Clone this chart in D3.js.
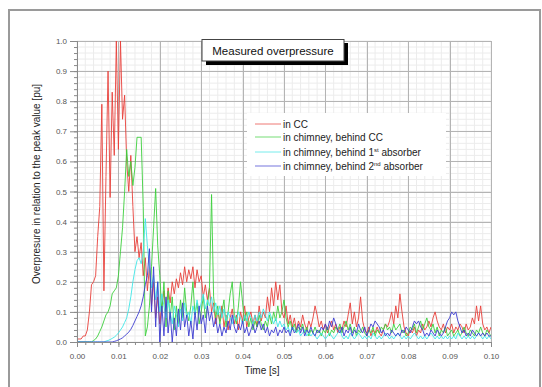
<!DOCTYPE html>
<html>
<head>
<meta charset="utf-8">
<script src="https://cdn.jsdelivr.net/npm/d3@7"></script>
<style>
  body { margin: 0; background: #fff; }
  svg { display: block; font-family: "Liberation Sans", Arial, sans-serif; }
</style>
</head>
<body>
<svg id="chart" width="542" height="387"></svg>
<script>
// sample step of all series: 0.0005 s, from 0 to 0.1 s (201 samples)
const STEP = 0.0005;

const seriesNames = [
  "in CC",
  "in chimney, behind CC",
  "in chimney, behind 1",
  "in chimney, behind 2"
];
const seriesSup = ["", "", "st", "nd"];
const seriesTail = ["", "", " absorber", " absorber"];
const seriesColors = ["#e8403a", "#3ccf3c", "#3fe6e6", "#3c3cd0"];

const xTicks = [0, 0.01, 0.02, 0.03, 0.04, 0.05, 0.06, 0.07, 0.08, 0.09, 0.1];
const yTicks = [0, 0.1, 0.2, 0.3, 0.4, 0.5, 0.6, 0.7, 0.8, 0.9, 1.0];

const inCC = [
  0.01,0.01,0.01,0.02,0.02,0.04,0.1,0.19,0.2,0.22,
  0.35,0.45,0.79,0.17,0.55,0.9,0.48,0.83,0.62,1.0,
  0.64,1.0,0.74,0.82,0.6,0.5,0.62,0.45,0.3,0.35,
  0.28,0.33,0.22,0.28,0.17,0.25,0.12,0.2,0.08,0.15,
  0.06,0.12,0.17,0.1,0.18,0.13,0.2,0.16,0.21,0.18,
  0.23,0.19,0.25,0.2,0.24,0.21,0.25,0.18,0.24,0.2,
  0.22,0.15,0.19,0.14,0.18,0.1,0.13,0.06,0.1,0.07,
  0.12,0.05,0.09,0.04,0.08,0.11,0.06,0.09,0.04,0.1,
  0.07,0.12,0.05,0.08,0.1,0.06,0.09,0.05,0.12,0.07,
  0.1,0.08,0.15,0.1,0.18,0.12,0.2,0.14,0.19,0.1,
  0.08,0.12,0.06,0.09,0.05,0.08,0.04,0.07,0.05,0.09,
  0.06,0.04,0.07,0.05,0.08,0.12,0.09,0.05,0.07,0.04,
  0.06,0.03,0.05,0.07,0.04,0.06,0.03,0.05,0.04,0.07,
  0.05,0.09,0.13,0.06,0.1,0.05,0.08,0.15,0.07,0.04,
  0.03,0.05,0.02,0.04,0.03,0.05,0.03,0.02,0.04,0.06,
  0.05,0.07,0.1,0.06,0.12,0.08,0.16,0.1,0.05,0.03,
  0.02,0.04,0.03,0.05,0.02,0.04,0.03,0.06,0.04,0.05,
  0.07,0.05,0.08,0.1,0.07,0.05,0.04,0.06,0.03,0.05,
  0.04,0.06,0.03,0.05,0.04,0.06,0.05,0.03,0.06,0.04,
  0.05,0.08,0.06,0.12,0.07,0.12,0.06,0.04,0.05,0.03,
  0.05
];

const behindCC = [
  0,0,0,0,0,0,0,0,0.005,0.01,
  0.02,0.035,0.05,0.07,0.09,0.1,0.12,0.16,0.17,0.18,
  0.22,0.3,0.38,0.5,0.64,0.55,0.6,0.52,0.58,0.68,
  0.68,0.68,0.45,0.02,0.05,0.12,0.25,0.38,0.51,0.32,
  0.22,0.1,0.2,0.05,0.17,0.08,0.15,0.04,0.12,0.06,
  0.14,0.08,0.18,0.1,0.07,0.12,0.2,0.09,0.13,0.06,
  0.1,0.15,0.08,0.12,0.18,0.49,0.15,0.08,0.12,0.06,
  0.1,0.14,0.05,0.1,0.16,0.2,0.09,0.06,0.12,0.2,
  0.13,0.07,0.1,0.05,0.08,0.04,0.07,0.05,0.09,0.06,
  0.04,0.07,0.05,0.09,0.06,0.1,0.07,0.12,0.08,0.1,
  0.14,0.08,0.05,0.07,0.04,0.06,0.03,0.05,0.04,0.06,
  0.03,0.05,0.02,0.04,0.03,0.05,0.03,0.04,0.02,0.04,
  0.03,0.05,0.02,0.04,0.03,0.05,0.04,0.06,0.03,0.05,
  0.07,0.04,0.06,0.03,0.05,0.02,0.04,0.03,0.05,0.03,
  0.02,0.04,0.03,0.05,0.02,0.04,0.03,0.05,0.04,0.06,
  0.04,0.05,0.03,0.06,0.04,0.05,0.06,0.03,0.04,0.02,
  0.03,0.05,0.04,0.06,0.03,0.05,0.07,0.04,0.06,0.08,
  0.05,0.04,0.06,0.03,0.05,0.02,0.04,0.03,0.05,0.02,
  0.03,0.04,0.02,0.03,0.04,0.02,0.03,0.05,0.03,0.02,
  0.04,0.03,0.02,0.04,0.03,0.05,0.03,0.02,0.04,0.03,
  0.02
];

const behind1st = [
  0,0,0,0,0,0,0,0,0,0,
  0,0,0,0,0.003,0.005,0.008,0.012,0.016,0.022,
  0.03,0.04,0.05,0.065,0.08,0.11,0.15,0.2,0.24,0.27,
  0.28,0.26,0.3,0.41,0.32,0.25,0.18,0.22,0.14,0.2,
  0.1,0.16,0.12,0.08,0.14,0.1,0.06,0.12,0.09,0.05,
  0.11,0.07,0.13,0.08,0.1,0.06,0.12,0.09,0.14,0.1,
  0.13,0.16,0.11,0.14,0.12,0.15,0.1,0.13,0.09,0.12,
  0.08,0.11,0.07,0.1,0.08,0.06,0.09,0.07,0.1,0.08,
  0.06,0.09,0.07,0.1,0.08,0.06,0.09,0.07,0.1,0.08,
  0.11,0.09,0.07,0.1,0.08,0.06,0.08,0.05,0.07,0.05,
  0.06,0.04,0.05,0.03,0.05,0.04,0.03,0.04,0.02,0.03,
  0.04,0.02,0.03,0.02,0.03,0.02,0.01,0.02,0.03,0.02,
  0.01,0.02,0.03,0.02,0.01,0.02,0.03,0.04,0.02,0.01,
  0.02,0.01,0.03,0.02,0.01,0.02,0.03,0.02,0.01,0.02,
  0.01,0.02,0.01,0.03,0.02,0.01,0.02,0.01,0.02,0.03,
  0.02,0.01,0.02,0.01,0.02,0.03,0.02,0.01,0.02,0.01,
  0.02,0.01,0.02,0.03,0.02,0.01,0.02,0.01,0.02,0.01,
  0.02,0.03,0.02,0.01,0.02,0.01,0.02,0.01,0.02,0.01,
  0.02,0.01,0.02,0.01,0.03,0.02,0.01,0.02,0.01,0.02,
  0.01,0.02,0.01,0.02,0.03,0.02,0.01,0.02,0.01,0.02,
  0.01
];

const behind2nd = [
  0,0,0,0,0,0,0,0,0,0,
  0,0,0,0,0,0,0,0,0.002,0.004,
  0.007,0.01,0.014,0.02,0.026,0.033,0.042,0.055,0.07,0.085,
  0.1,0.12,0.15,0.19,0.22,0.31,0.1,0.25,0.05,0.2,
  0.0,0.12,0.02,0.15,0.03,0.1,0.0,0.08,0.02,0.11,
  0.04,0.13,0.05,0.09,0.02,0.07,0.01,0.1,0.04,0.12,
  0.06,0.09,0.03,0.12,0.07,0.1,0.05,0.08,0.03,0.06,
  0.02,0.05,0.03,0.07,0.04,0.09,0.05,0.03,0.06,0.04,
  0.07,0.03,0.05,0.02,0.04,0.06,0.03,0.05,0.07,0.04,
  0.06,0.03,0.05,0.02,0.04,0.03,0.05,0.02,0.04,0.03,
  0.05,0.03,0.04,0.02,0.05,0.03,0.04,0.06,0.03,0.05,
  0.02,0.04,0.03,0.05,0.03,0.02,0.04,0.03,0.05,0.04,
  0.06,0.04,0.07,0.05,0.08,0.06,0.04,0.03,0.05,0.02,
  0.04,0.03,0.05,0.02,0.04,0.03,0.06,0.04,0.03,0.05,
  0.02,0.04,0.06,0.05,0.07,0.06,0.05,0.03,0.04,0.02,
  0.03,0.02,0.04,0.03,0.02,0.03,0.02,0.04,0.03,0.05,
  0.04,0.03,0.05,0.07,0.06,0.07,0.05,0.04,0.02,0.03,
  0.02,0.04,0.03,0.02,0.04,0.03,0.02,0.03,0.05,0.07,
  0.08,0.1,0.09,0.1,0.07,0.05,0.03,0.04,0.02,0.03,
  0.02,0.04,0.03,0.02,0.03,0.02,0.03,0.02,0.03,0.02,
  0.02
];

const allSeries = [inCC, behindCC, behind1st, behind2nd];

const svg = d3.select("#chart");
const plotLeft = 77, plotRight = 491, plotTop = 41, plotBottom = 342;

const x = d3.scaleLinear().domain([0, 0.1]).range([plotLeft, plotRight]);
const y = d3.scaleLinear().domain([0, 1]).range([plotBottom, plotTop]);

// outer frame
svg.append("rect")
  .attr("x", 9).attr("y", 10).attr("width", 531).attr("height", 420)
  .attr("fill", "none").attr("stroke", "#9a9a9a").attr("stroke-width", 2);

// minor grid
const g = svg.append("g");
g.selectAll(".vminor").data(d3.range(0, 51).map(i => i * 0.002)).enter()
  .append("line")
  .attr("x1", d => x(d)).attr("x2", d => x(d))
  .attr("y1", plotTop).attr("y2", plotBottom)
  .attr("stroke", "#ececec").attr("stroke-width", 1);
g.selectAll(".hminor").data(d3.range(0, 51).map(i => i * 0.02)).enter()
  .append("line")
  .attr("x1", plotLeft).attr("x2", plotRight)
  .attr("y1", d => y(d)).attr("y2", d => y(d))
  .attr("stroke", "#ececec").attr("stroke-width", 1);

// major grid
g.selectAll(".vmajor").data(xTicks.slice(1)).enter()
  .append("line")
  .attr("x1", d => Math.round(x(d)) + 0.5).attr("x2", d => Math.round(x(d)) + 0.5)
  .attr("y1", plotTop).attr("y2", plotBottom)
  .attr("stroke", "#b4b4b4").attr("stroke-width", 1);
g.selectAll(".hmajor").data(yTicks.slice(1)).enter()
  .append("line")
  .attr("x1", plotLeft).attr("x2", plotRight)
  .attr("y1", d => Math.round(y(d)) + 0.5).attr("y2", d => Math.round(y(d)) + 0.5)
  .attr("stroke", "#b4b4b4").attr("stroke-width", 1);

// data
svg.append("clipPath").attr("id", "plotclip")
  .append("rect").attr("x", plotLeft).attr("y", plotTop - 1)
  .attr("width", plotRight - plotLeft).attr("height", plotBottom - plotTop + 1);

const line = d3.line()
  .x((d, i) => x(i * STEP))
  .y(d => y(d));

svg.append("g").attr("clip-path", "url(#plotclip)")
  .selectAll("path").data(allSeries).enter()
  .append("path")
  .attr("d", d => line(d))
  .attr("fill", "none")
  .attr("stroke", (d, i) => seriesColors[i])
  .attr("stroke-width", 0.9)
  .attr("stroke-linejoin", "round");

// axes
function styleAxis(sel) {
  sel.selectAll("path.domain").attr("stroke", "#8a8a8a");
  sel.selectAll(".tick line").attr("stroke", "#8a8a8a");
  sel.selectAll(".tick text").attr("fill", "#555").attr("font-size", 8)
    .attr("font-family", "Liberation Sans, Arial, sans-serif");
}

svg.append("g").attr("transform", `translate(0,${plotBottom})`)
  .call(d3.axisBottom(x).tickValues(d3.range(0, 51).map(i => i * 0.002))
    .tickSize(3).tickFormat(""))
  .call(styleAxis);
svg.append("g").attr("transform", `translate(0,${plotBottom})`)
  .call(d3.axisBottom(x).tickValues(xTicks).tickSize(5).tickPadding(6)
    .tickFormat(d3.format(".2f")))
  .call(styleAxis);

svg.append("g").attr("transform", `translate(${plotLeft},0)`)
  .call(d3.axisLeft(y).tickValues(d3.range(0, 51).map(i => i * 0.02))
    .tickSize(3).tickFormat(""))
  .call(styleAxis);
svg.append("g").attr("transform", `translate(${plotLeft},0)`)
  .call(d3.axisLeft(y).tickValues(yTicks).tickSize(7).tickPadding(3)
    .tickFormat(d3.format(".1f")))
  .call(styleAxis);

// axis titles
svg.append("text")
  .attr("x", 262).attr("y", 374)
  .attr("text-anchor", "middle").attr("font-size", 10).attr("fill", "#222")
  .text("Time [s]");

svg.append("text")
  .attr("transform", "translate(40,184) rotate(-90)")
  .attr("text-anchor", "middle").attr("font-size", 10).attr("fill", "#222")
  .text("Overpresure in relation to the peak value [pu]");

// title box with shadow
svg.append("rect").attr("x", 206).attr("y", 43).attr("width", 142).attr("height", 22)
  .attr("fill", "#000");
svg.append("rect").attr("x", 202).attr("y", 39.5).attr("width", 142).attr("height", 21.5)
  .attr("fill", "#fff").attr("stroke", "#444").attr("stroke-width", 1);
svg.append("text")
  .attr("x", 273).attr("y", 54.5)
  .attr("text-anchor", "middle").attr("font-size", 11.5).attr("fill", "#111")
  .text("Measured overpressure");

// legend
const legend = svg.append("g");
legend.append("rect").attr("x", 247).attr("y", 113).attr("width", 199).attr("height", 63)
  .attr("fill", "#fff");
const legendY = [124, 137, 152, 166];
seriesNames.forEach((name, i) => {
  legend.append("line")
    .attr("x1", 255).attr("x2", 281)
    .attr("y1", legendY[i]).attr("y2", legendY[i])
    .attr("stroke", seriesColors[i]).attr("stroke-width", 1).attr("opacity", 0.7);
  const t = legend.append("text")
    .attr("x", 283).attr("y", legendY[i] + 3.5)
    .attr("font-size", 10).attr("fill", "#222");
  t.append("tspan").text(name);
  if (seriesSup[i]) {
    t.append("tspan").attr("font-size", 6).attr("dy", -4).text(seriesSup[i]);
    t.append("tspan").attr("dy", 4).text(seriesTail[i]);
  }
});
</script>
</body>
</html>
